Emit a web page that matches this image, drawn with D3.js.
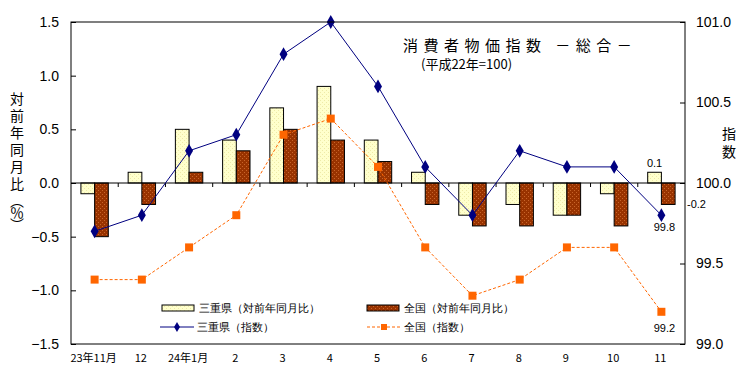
<!DOCTYPE html>
<html>
<head>
<meta charset="utf-8">
<script src="https://cdn.jsdelivr.net/npm/d3@7"></script>
<style>
  body { margin: 0; background: #fff; }
  text { font-family: "Liberation Sans", Arial, sans-serif; }
  .jp { font-family: "Noto Sans CJK JP", sans-serif; }
</style>
</head>
<body>
<svg></svg>
<script>
const size = {w: 744, h: 378};
const margin = {t: 22, r: 59, b: 34, l: 71};
const svg = d3.select('svg').attr('width', size.w).attr('height', size.h);

// data
const months = ['23年11月', '12', '24年1月', '2', '3', '4', '5', '6', '7', '8', '9', '10', '11'];
const mieYoY = [-0.1, 0.1, 0.5, 0.4, 0.7, 0.9, 0.4, 0.1, -0.3, -0.2, -0.3, -0.1, 0.1];
const zenYoY = [-0.5, -0.2, 0.1, 0.3, 0.5, 0.4, 0.2, -0.2, -0.4, -0.4, -0.3, -0.4, -0.2];
const mieIdx = [99.7, 99.8, 100.2, 100.3, 100.8, 101.0, 100.6, 100.1, 99.8, 100.2, 100.1, 100.1, 99.8];
const zenIdx = [99.4, 99.4, 99.6, 99.8, 100.3, 100.4, 100.1, 99.6, 99.3, 99.4, 99.6, 99.6, 99.2];
const leftTicks = [-1.5, -1.0, -0.5, 0.0, 0.5, 1.0, 1.5];
const rightTicks = [99.0, 99.5, 100.0, 100.5, 101.0];

const x = d3.scaleBand().domain(months).range([margin.l, size.w - margin.r]);
const y = d3.scaleLinear().domain([-1.5, 1.5]).range([size.h - margin.b, margin.t]);
const y2 = d3.scaleLinear().domain([99, 101]).range([size.h - margin.b, margin.t]);
const cx = d => x(d) + x.bandwidth() / 2;
const bw = x.bandwidth() * 0.29;

const fmt = d3.format('.1f');

// dotted textures like the original bars
const defs = svg.append('defs');
function dots(id, base, dot) {
    const p = defs.append('pattern').attr('id', id)
        .attr('width', 4).attr('height', 4).attr('patternUnits', 'userSpaceOnUse');
    p.append('rect').attr('width', 4).attr('height', 4).attr('fill', base);
    p.append('rect').attr('x', 0).attr('y', 0).attr('width', 1).attr('height', 1).attr('fill', dot);
    p.append('rect').attr('x', 2).attr('y', 2).attr('width', 1).attr('height', 1).attr('fill', dot);
}
dots('yel', '#ffffcc', '#eeeaa8');
dots('brn', '#993300', '#c8642a');

// bars
const barsG = svg.append('g');
barsG.selectAll('rect.mie')
    .data(months)
    .join('rect')
    .attr('x', d => cx(d) - bw)
    .attr('width', bw)
    .attr('y', (d, i) => y(Math.max(0, mieYoY[i])))
    .attr('height', (d, i) => Math.abs(y(mieYoY[i]) - y(0)))
    .attr('fill', 'url(#yel)')
    .attr('stroke', '#000')
    .attr('stroke-width', 1);
barsG.selectAll('rect.zen')
    .data(months)
    .enter().append('rect')
    .attr('x', d => cx(d))
    .attr('width', bw)
    .attr('y', (d, i) => y(Math.max(0, zenYoY[i])))
    .attr('height', (d, i) => Math.abs(y(zenYoY[i]) - y(0)))
    .attr('fill', 'url(#brn)')
    .attr('stroke', '#000')
    .attr('stroke-width', 1);

// zero line + small ticks between months
svg.append('line')
    .attr('x1', margin.l).attr('x2', size.w - margin.r)
    .attr('y1', y(0)).attr('y2', y(0))
    .attr('stroke', '#000');
svg.append('g').selectAll('line')
    .data(d3.range(1, months.length))
    .join('line')
    .attr('x1', i => margin.l + i * x.step())
    .attr('x2', i => margin.l + i * x.step())
    .attr('y1', y(0)).attr('y2', y(0) + 4)
    .attr('stroke', '#000');

// index lines
const line = d3.line().x((d, i) => cx(months[i])).y(d => y2(d));
svg.append('path')
    .datum(zenIdx)
    .attr('d', line)
    .attr('fill', 'none')
    .attr('stroke', '#ff6600')
    .attr('stroke-dasharray', '3,2')
    .attr('stroke-width', 1);
svg.append('path')
    .datum(mieIdx)
    .attr('d', line)
    .attr('fill', 'none')
    .attr('stroke', '#000080')
    .attr('stroke-width', 1);

svg.append('g').selectAll('path')
    .data(zenIdx)
    .join('path')
    .attr('d', d3.symbol(d3.symbolSquare, 64))
    .attr('transform', (d, i) => `translate(${cx(months[i])},${y2(d)})`)
    .attr('fill', '#ff6600');
svg.append('g').selectAll('path')
    .data(mieIdx)
    .join('path')
    .attr('d', d3.symbol(d3.symbolDiamond, 55))
    .attr('transform', (d, i) => `translate(${cx(months[i])},${y2(d)})`)
    .attr('fill', '#000080');

// value labels for the latest month
const last = months.length - 1;
const lbl = svg.append('g').style('font-size', '11px');
lbl.append('text').attr('x', cx(months[last]) - bw / 2).attr('y', y(mieYoY[last]) - 5)
    .attr('text-anchor', 'middle').text(fmt(mieYoY[last]));
lbl.append('text').attr('x', size.w - margin.r + 2).attr('y', y(zenYoY[last]) + 4)
    .text('-' + fmt(Math.abs(zenYoY[last])));
lbl.append('text').attr('x', cx(months[last]) + 3).attr('y', y2(mieIdx[last]) + 16)
    .attr('text-anchor', 'middle').text(fmt(mieIdx[last]));
lbl.append('text').attr('x', cx(months[last]) + 3).attr('y', y2(zenIdx[last]) + 20)
    .attr('text-anchor', 'middle').text(fmt(zenIdx[last]));

// frame
svg.append('rect')
    .attr('x', margin.l).attr('y', margin.t)
    .attr('width', size.w - margin.l - margin.r)
    .attr('height', size.h - margin.t - margin.b)
    .attr('fill', 'none').attr('stroke', '#000');

// axes
const left = svg.append('g')
    .attr('transform', `translate(${margin.l},0)`)
    .call(d3.axisLeft(y).tickValues(leftTicks).tickFormat(fmt).tickSize(-5).tickPadding(12));
const right = svg.append('g')
    .attr('transform', `translate(${size.w - margin.r},0)`)
    .call(d3.axisRight(y2).tickValues(rightTicks).tickFormat(fmt).tickSize(-5).tickPadding(11));
[left, right].forEach(g => {
    g.select('.domain').remove();
    g.selectAll('text').style('font-size', '14px').attr('fill', '#000')
        .style('font-family', '"Liberation Sans", Arial, sans-serif');
    g.selectAll('line').attr('stroke', '#000');
});

// month labels
svg.append('g').selectAll('text')
    .data(months)
    .join('text')
    .attr('class', 'jp')
    .attr('x', d => cx(d) - 1)
    .attr('y', 362)
    .attr('text-anchor', 'middle')
    .style('font-size', '11px')
    .text(d => d);

// axis titles, vertical writing
svg.append('text')
    .attr('class', 'jp')
    .attr('x', 17)
    .attr('y', 92)
    .style('writing-mode', 'vertical-rl')
    .style('font-size', '14px')
    .style('letter-spacing', '3px')
    .text('対前年同月比')
    .append('tspan')
    .style('letter-spacing', '-2px')
    .text('（％）');
svg.append('text')
    .attr('class', 'jp')
    .attr('x', 729)
    .attr('y', 127)
    .style('writing-mode', 'vertical-rl')
    .style('font-size', '14px')
    .style('letter-spacing', '4px')
    .text('指数');

// title
svg.append('text').attr('class', 'jp')
    .attr('x', 403).attr('y', 51)
    .style('font-size', '15px').style('letter-spacing', '5.5px')
    .text('消費者物価指数 －総合－');
svg.append('text').attr('class', 'jp')
    .attr('x', 421).attr('y', 69)
    .style('font-size', '13px')
    .text('(平成22年=100)');

// legend
const legend = svg.append('g').attr('class', 'jp').style('font-size', '11px');
const items = [
    {label: '三重県（対前年同月比）', type: 'bar', fill: 'url(#yel)', x: 162, y: 308},
    {label: '全国（対前年同月比）', type: 'bar', fill: 'url(#brn)', x: 367, y: 308},
    {label: '三重県（指数）', type: 'line', color: '#000080', x: 160, y: 327},
    {label: '全国（指数）', type: 'dash', color: '#ff6600', x: 367, y: 327}
];
items.forEach(it => {
    const g = legend.append('g').attr('transform', `translate(${it.x},${it.y})`);
    if (it.type === 'bar') {
        g.append('rect').attr('x', 0).attr('y', -3).attr('width', 32).attr('height', 6)
            .attr('fill', it.fill).attr('stroke', '#000');
    } else {
        g.append('line').attr('x1', 0).attr('x2', 34).attr('y1', 0).attr('y2', 0)
            .attr('stroke', it.color)
            .attr('stroke-dasharray', it.type === 'dash' ? '3,2' : null);
        g.append('path')
            .attr('d', d3.symbol(it.type === 'dash' ? d3.symbolSquare : d3.symbolDiamond, it.type === 'dash' ? 36 : 30))
            .attr('transform', 'translate(17,0)')
            .attr('fill', it.color);
    }
    g.append('text').attr('x', 37).attr('y', 4).text(it.label);
});
</script>
</body>
</html>
